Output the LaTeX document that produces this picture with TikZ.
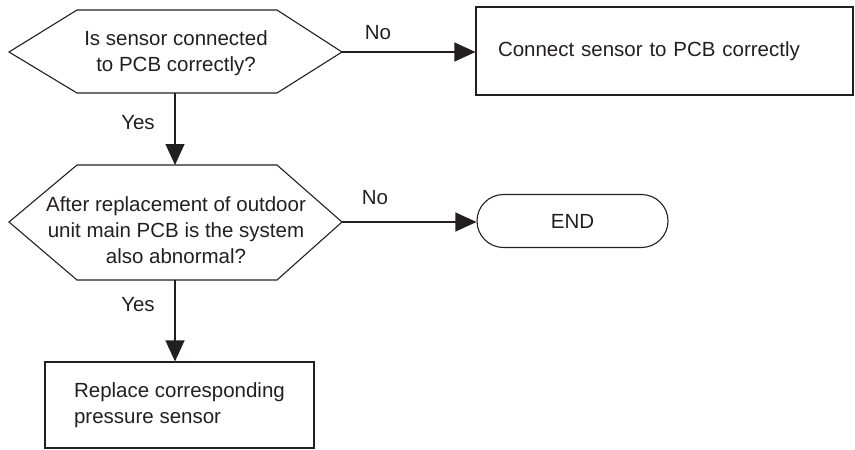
\documentclass[tikz,border=0pt]{standalone}
\usepackage{fontspec}
\setmainfont{Liberation Sans}
\usetikzlibrary{arrows.meta,shapes.misc}
\definecolor{ink}{HTML}{231F20}
\begin{document}
\begin{tikzpicture}[x=1pt,y=-1pt,line width=1.1pt,draw=ink,text=ink,
  font=\fontsize{20.5}{26}\selectfont,
  arr/.style={-{Triangle[length=21pt,width=19pt]},draw=ink,fill=ink},
  lbl/.style={inner sep=0pt},
  qtext/.style={inner sep=0pt,align=center},
  boxnode/.style={draw=ink,rectangle,inner sep=0pt,align=left},
  endnode/.style={draw=ink,rounded rectangle,inner sep=0pt,minimum width=191pt,minimum height=53pt}]
\useasboundingbox (0,0) rectangle (855,450);
% decision 1
\coordinate (a1) at (9,52);
\coordinate (a2) at (77,10);
\coordinate (a3) at (277,10);
\coordinate (a4) at (342,52);
\coordinate (a5) at (277,93);
\coordinate (a6) at (77,93);
\draw (a1) -- (a2) -- (a3) -- (a4) -- (a5) -- (a6) -- cycle;
\node[qtext] (q1) at (176,53) {Is sensor connected\\to PCB correctly?};
% decision 2
\coordinate (b1) at (9,222);
\coordinate (b2) at (77,165);
\coordinate (b3) at (277,165);
\coordinate (b4) at (342,222);
\coordinate (b5) at (277,280);
\coordinate (b6) at (77,280);
\draw (b1) -- (b2) -- (b3) -- (b4) -- (b5) -- (b6) -- cycle;
\node[qtext] (q2) at (176,230) {After replacement of outdoor\\unit main PCB is the system\\also abnormal?};
% boxes
\node[boxnode,minimum width=377pt,minimum height=88pt,text width=333pt] (c1) at (664.5,51) {Connect sensor to PCB correctly};
\node[boxnode,minimum width=269pt,minimum height=86pt] (c3) at (179.5,405) {Replace corresponding\\pressure sensor};
\node[endnode] (e) at (572.5,221) {END};
% connectors
\coordinate (t1) at (175,93);
\coordinate (t2) at (175,165);
\coordinate (t3) at (175,280);
\draw[arr] (t1) -- (t2);
\draw[arr] (t3) -- (t3 |- c3.north);
\draw[arr] (a4) -- (a4 -| c1.west);
\draw[arr] (b4) -- (b4 -| e.west);
% labels
\node[lbl] (y1) at (138,123) {Yes};
\node[lbl] (y2) at (138,305) {Yes};
\node[lbl] (n1) at (378,33) {No};
\node[lbl] (n2) at (375,198) {No};
\end{tikzpicture}
\end{document}
